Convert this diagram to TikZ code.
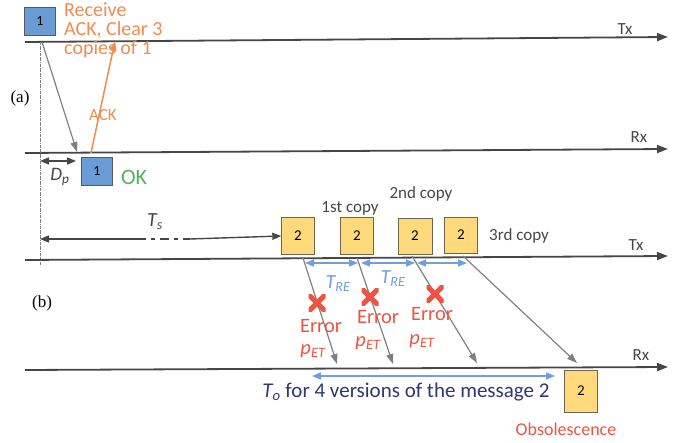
\documentclass[tikz,border=0pt]{standalone}
\usepackage{fontspec}
\setmainfont{Carlito}
\newfontfamily\labfont{Liberation Serif}
\usetikzlibrary{positioning, arrows.meta}
\definecolor{boxblue}{RGB}{106,155,213}
\definecolor{boxyellow}{RGB}{255,218,125}
\definecolor{boxedge}{RGB}{110,100,80}
\definecolor{axisgray}{RGB}{70,70,70}
\definecolor{ackorange}{RGB}{240,140,80}
\definecolor{okgreen}{RGB}{80,180,90}
\definecolor{errred}{RGB}{235,85,65}
\definecolor{tblue}{RGB}{110,160,220}
\definecolor{navy}{RGB}{50,55,110}
\newcommand{\fs}[1]{\fontsize{#1}{#1}\selectfont}

\begin{document}
\begin{tikzpicture}[x=1pt, y=-1pt,
        msgone/.style={rectangle, draw=gray!70!black, fill=boxblue, inner sep=0pt, minimum width=31pt, minimum height=28pt, font=\fs{14}},
        msgtwo/.style={rectangle, draw=boxedge, fill=boxyellow, inner sep=0pt, minimum width=33pt, minimum height=37pt, font=\fs{15}},
        axis/.style={line width=1.8pt, draw=axisgray, -{Triangle[length=11pt, width=8pt]}},
        pkt/.style={draw=gray, line width=1.2pt, -{Triangle[length=10pt, width=7pt]}},
        gap/.style={draw=tblue, line width=1.6pt, {Triangle[length=9pt, width=7pt]}-{Triangle[length=9pt, width=7pt]}},
        blk/.style={draw=axisgray, line width=1.4pt, -{Triangle[length=9pt, width=7pt]}},
        side/.style={font=\labfont\fs{17}},
        axlabel/.style={font=\fs{17}, text=axisgray},
        note/.style={font=\fs{17}, text=axisgray},
        errtext/.style={font=\fs{20.5}, text=errred, inner sep=0pt},
        errx/.style={minimum size=17pt, inner sep=0pt, path picture={\draw[line width=5pt, errred] (path picture bounding box.north west) -- (path picture bounding box.south east) (path picture bounding box.north east) -- (path picture bounding box.south west);}}]
        \useasboundingbox (0,0) rectangle (687,443);
        % (a) time lines
        \coordinate (txa0) at (25,42); \coordinate (txa1) at (668,37);
        \coordinate (rxa0) at (25,153); \coordinate (rxa1) at (668,149);
        \draw[axis] (txa0) -- (txa1);
        \draw[axis] (rxa0) -- (rxa1);
        \node (txalab) [axlabel] at (625,29) {Tx};
        \node (rxalab) [axlabel] at (639,137) {Rx};
        \node (parta) [side] at (20,98) {(a)};
        \draw[gray, densely dash dot, thin] (40,42) coordinate (ref0) -- (40,265) coordinate (ref1);
        \node (oneTx) [msgone] at (40,21) {1};
        \node (oneRx) [msgone] at (97,171) {1};
        \node (receive) [anchor=north west, align=left, font=\fontsize{20}{19}\selectfont, text=ackorange, inner sep=0pt] at (64,3) {Receive\\ACK, Clear 3\\copies of 1};
        \node (ok) [font=\fs{22}, text=okgreen] at (134,177) {OK};
        \coordinate (senda) at (42,42); \coordinate (arra) at (77,152);
        \draw[pkt] (senda) -- (arra);
        \coordinate (acka) at (91,153); \coordinate (ackb) at (115,41);
        \draw[ackorange, line width=1.5pt, -{Triangle[length=10pt, width=7pt]}] (acka) -- (ackb);
        \node (ack) [font=\fs{17}, text=ackorange] at (103,115) {ACK};
        \coordinate (dp0) at (40,161); \coordinate (dp1) at (76,161);
        \draw[blk, {Triangle[length=9pt, width=7pt]}-{Triangle[length=9pt, width=7pt]}] (dp0) -- (dp1);
        \node (dp) [font=\fs{19}, text=axisgray] at (60,177) {\textit{D\textsubscript{p}}};
        % (b) time lines
        \coordinate (txb0) at (25,260); \coordinate (txb1) at (668,256);
        \coordinate (rxb0) at (25,370); \coordinate (rxb1) at (668,367);
        \draw[axis] (txb0) -- (txb1);
        \draw[axis] (rxb0) -- (rxb1);
        \node (txblab) [axlabel] at (636,245) {Tx};
        \node (rxblab) [axlabel] at (641,355) {Rx};
        \node (partb) [side] at (42,303) {(b)};
        \node (twoA) [msgtwo] at (298,236) {2};
        \node (twoB) [msgtwo] at (357,236) {2};
        \node (twoC) [msgtwo, minimum width=34pt, minimum height=36pt] at (415,236) {2};
        \node (twoD) [msgtwo, minimum height=36pt] at (461,235) {2};
        \node (twoRx) [msgtwo, minimum height=42pt] at (581,391) {2};
        \node (copy1) [note] at (350,208) {1st copy};
        \node (copy2) [note] at (421,194) {2nd copy};
        \node (copy3) [note] at (519,236) {3rd copy};
        % T_s
        \coordinate (ts0) at (40,239); \coordinate (tsa) at (137,239);
        \coordinate (tsb) at (190,239); \coordinate (ts1) at (282,238);
        \draw[blk] (tsa) -- (ts0);
        \draw[axisgray, line width=1.4pt, dash pattern=on 9pt off 5pt on 4pt off 5pt] (tsa) -- (tsb);
        \draw[blk] (tsb) -- (twoA.west);
        \node (ts) [font=\fs{20}, text=axisgray] at (155,222) {\textit{T\textsubscript{s}}};
        % T_RE
        \coordinate (re0) at (305,263); \coordinate (re1) at (358,263);
        \coordinate (re2) at (361,263); \coordinate (re3) at (415,263);
        \coordinate (re4) at (417,263); \coordinate (re5) at (467,263);
        \draw[gap] (re0) -- (re1);
        \draw[gap] (re2) -- (re3);
        \draw[gap] (re4) -- (re5);
        \node (tre1) [font=\fs{20}, text=tblue] at (338,284) {\textit{T\textsubscript{RE}}};
        \node (tre2) [font=\fs{20}, text=tblue] at (393,279) {\textit{T\textsubscript{RE}}};
        % copies sent to Rx
        \coordinate (s1) at (303,258); \coordinate (e1) at (337,364);
        \coordinate (s2) at (357,258); \coordinate (e2) at (393,364);
        \coordinate (s3) at (412,256); \coordinate (e3) at (477,363);
        \coordinate (s4) at (463,256); \coordinate (e4) at (577,363);
        \draw[pkt] (s1) -- (e1);
        \draw[pkt] (s2) -- (e2);
        \draw[pkt] (s3) -- (e3);
        \draw[pkt] (s4) -- (e4);
        \node (x1) [errx] at (317,303) {};
        \node (x2) [errx] at (370,297) {};
        \node (x3) [errx] at (435,294) {};
        \node (err1) [errtext] at (321,326) {Error};
        \node (p1) [errtext] at (313,351) {\textit{p\textsubscript{ET}}};
        \node (err2) [errtext] at (378,317) {Error};
        \node (p2) [errtext] at (368,343) {\textit{p\textsubscript{ET}}};
        \node (err3) [errtext] at (432,314) {Error};
        \node (p3) [errtext] at (422,341) {\textit{p\textsubscript{ET}}};
        % T_o
        \coordinate (to0) at (312,376); \coordinate (to1) at (555,376);
        \draw[gap] (to0) -- (to1);
        \node (to) [font=\fs{21}, text=navy] at (406,392) {\textit{T\textsubscript{o}} for 4 versions of the message 2};
        \node (obs) [font=\fs{18}, text=errred] at (566,429) {Obsolescence};
\end{tikzpicture}
\end{document}
